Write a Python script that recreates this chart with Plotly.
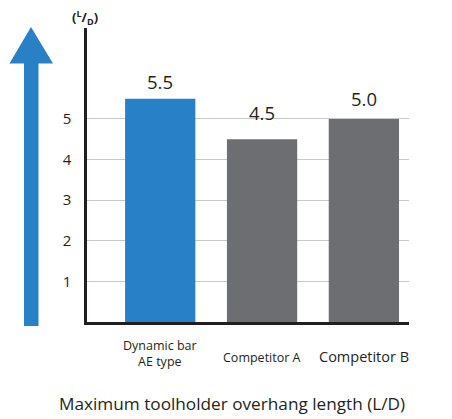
import plotly.graph_objects as go

categories = ["Dynamic bar<br>AE type", "Competitor A", "Competitor B"]
values = [5.5, 4.5, 5.0]
value_labels = ["5.5", "4.5", "5.0"]
y_ticks = [1, 2, 3, 4, 5]
x_title = "Maximum toolholder overhang length (L/D)"

# styling
bar_colors = ["#2880C6", "#6D6E71", "#6D6E71"]
label_yshift = [17, 27, 20]        # pixels above bar top (label centre)
cat_font_sizes = [12.5, 12.5, 14.5]
cat_label_y = [353, 357, 356]      # pixel centre of category labels

W, H = 452, 419
L, R, T, B = 87, 409, 28, 322

def px(x):
    return (x - L) / (R - L)

def py(y):
    return (B - y) / (B - T)

fig = go.Figure()
fig.add_trace(go.Bar(
    x=categories, y=values, marker_color=bar_colors, marker_line_width=0,
    width=0.69, hoverinfo="skip",
))

annotations = []
for c, v, t, s in zip(categories, values, value_labels, label_yshift):
    annotations.append(dict(x=c, y=v, xref="x", yref="y", text=t, showarrow=False,
                            yanchor="middle", yshift=s,
                            font=dict(size=18.5, color="#231F20")))
for c, fs, yy in zip(categories, cat_font_sizes, cat_label_y):
    annotations.append(dict(x=c, y=py(yy), xref="x", yref="paper", text=c, showarrow=False,
                            yanchor="middle", font=dict(size=fs, color="#231F20")))
annotations.append(dict(x=px(232), y=py(403), xref="paper", yref="paper", text=x_title,
                        showarrow=False, xanchor="center", yanchor="middle",
                        font=dict(size=17.2, color="#231F20")))
annotations.append(dict(x=px(85), y=py(17), xref="paper", yref="paper",
                        text="<b>(<sup>L</sup>/<sub>D</sub>)</b>",
                        showarrow=False, xanchor="center", yanchor="middle",
                        font=dict(size=13, color="#231F20")))

arrow_pts = [(31, 27), (53, 63.5), (38.5, 63.5), (38.5, 326), (24, 326), (24, 63.5), (9.5, 63.5)]
path = "M " + " L ".join(f"{px(a):.5f},{py(b):.5f}" for a, b in arrow_pts) + " Z"

fig.update_layout(
    width=W, height=H, autosize=False,
    margin=dict(l=L, r=W - R, t=T, b=H - B, pad=0),
    paper_bgcolor="white", plot_bgcolor="white",
    font=dict(family="Open Sans", color="#231F20"),
    showlegend=False,
    bargap=0.3,
    annotations=annotations,
    shapes=[dict(type="path", path=path, xref="paper", yref="paper",
                 fillcolor="#2880C6", line=dict(width=0), layer="above")],
    xaxis=dict(type="category", range=[-0.719, 2.443], showticklabels=False,
               showgrid=False, zeroline=False, showline=True, linecolor="#231F20",
               linewidth=2.5, ticks="", fixedrange=True),
    yaxis=dict(range=[0, 7.24], tickvals=y_ticks, showgrid=True, gridcolor="#C8C8C8",
               gridwidth=1.3, zeroline=False, showline=True, linecolor="#231F20",
               linewidth=2.5, ticks="", ticklabelstandoff=10,
               tickfont=dict(size=15, color="#231F20"), fixedrange=True),
)

fig.write_html("out.html", config={"displayModeBar": False})
